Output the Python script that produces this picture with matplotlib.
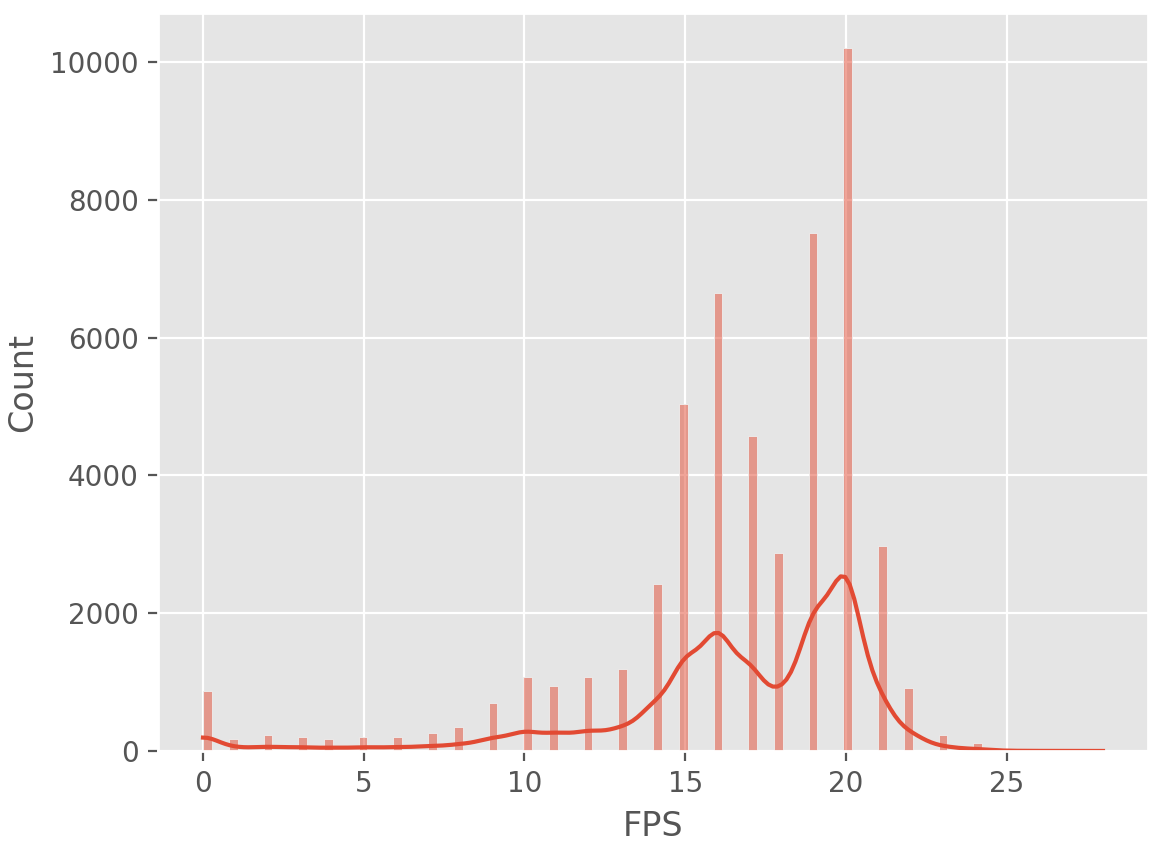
import numpy as np
import matplotlib
matplotlib.use("Agg")
import matplotlib.pyplot as plt
import seaborn as sns

# FPS値ごとの件数
fps_values = list(range(0, 29))
fps_counts = [870, 170, 230, 200, 170, 200, 200, 260, 350, 690,
              1070, 950, 1070, 1190, 2430, 5030, 6650, 4570, 2880, 7520,
              10200, 2980, 920, 230, 110, 12, 6, 4, 2]

# 件数から元のサンプル列を復元
fps = np.repeat(fps_values, fps_counts)

plt.style.use("ggplot")
fig = plt.figure(figsize=(5.78, 4.23), dpi=200)
ax = fig.add_axes([158 / 1156, 95 / 846, 990 / 1156, 738 / 846])

# bins='auto' 相当 (104本)
sns.histplot(x=fps, bins=104, binrange=(0, 28), kde=True, ax=ax)
ax.set_xlabel("FPS")
ax.set_ylabel("Count")

fig.savefig("out.png", dpi=200)
